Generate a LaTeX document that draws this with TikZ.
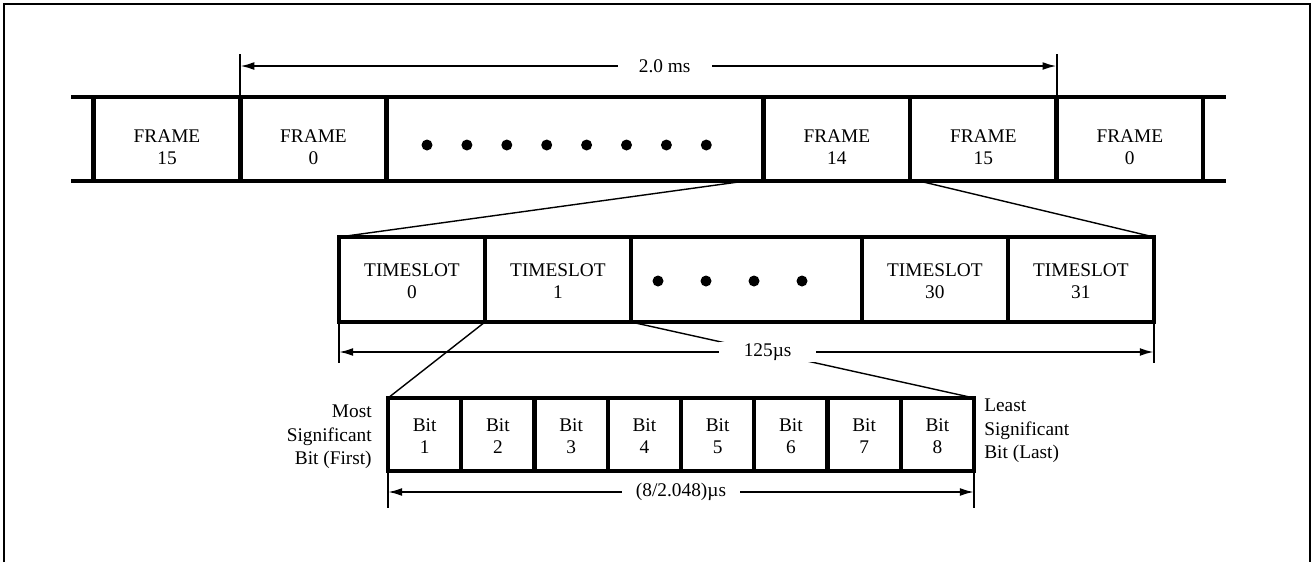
\documentclass[tikz,border=0pt]{standalone}
\usepackage{fontspec}
\setmainfont{Liberation Serif}
\usetikzlibrary{arrows.meta,positioning}

% two-line cell text, lowered a little inside its box
\newcommand{\cellstack}[3]{\raisebox{#1}[\height][\depth]{\begin{tabular}{@{}c@{}}#2\\#3\end{tabular}}}

\begin{document}
\begin{tikzpicture}[x=0.02cm, y=-0.02cm, font=\fontsize{11}{12.5}\selectfont,
  framecell/.style={draw, line width=2.6pt, inner sep=0pt, outer sep=0pt, minimum width=2.93cm, minimum height=1.68cm},
  slotcell/.style={draw, line width=2.6pt, inner sep=0pt, outer sep=0pt, minimum width=2.92cm, minimum height=1.7cm},
  bitcell/.style={draw, line width=2.4pt, inner sep=0pt, outer sep=0pt, minimum width=1.465cm, minimum height=1.46cm},
  fan/.style={line width=0.8pt},
  tick/.style={line width=1.2pt},
  dim/.style={line width=1.1pt, {Latex[length=8pt,width=4.5pt]}-{Latex[length=8pt,width=4.5pt]}},
  dimlabel/.style={fill=white, inner ysep=1pt},
  sidelabel/.style={inner sep=0pt, font=\fontsize{11}{13.5}\selectfont}]

  % outer frame
  \useasboundingbox (0,0) rectangle (1316,562);
  \draw[line width=1.1pt] (4,562) -- (4,4) -- (1310,4) -- (1310,562);

  % Frames (top row)
  \node[framecell] (f15a) at (167,139) {\cellstack{-5.5pt}{FRAME}{15}};
  \node[framecell, right=0pt of f15a] (f0a) {\cellstack{-5.5pt}{FRAME}{0}};
  \node[framecell, right=0pt of f0a, minimum width=7.54cm] (fdots) {};
  \node[framecell, right=0pt of fdots] (f14) {\cellstack{-5.5pt}{FRAME}{14}};
  \node[framecell, right=0pt of f14] (f15b) {\cellstack{-5.5pt}{FRAME}{15}};
  \node[framecell, right=0pt of f15b] (f0b) {\cellstack{-5.5pt}{FRAME}{0}};
  \draw[line width=2.6pt] (f15a.north west) -- ++(-23,0);
  \draw[line width=2.6pt] (f15a.south west) -- ++(-23,0);
  \draw[line width=2.6pt] (f0b.north east) -- ++(23,0);
  \draw[line width=2.6pt] (f0b.south east) -- ++(23,0);
  \foreach \i in {0,...,7}
    \fill ({427+39.9*\i},145) circle (0.11cm);

  % Timeslots (middle row)
  \node[slotcell] (ts0) at (412,279.5) {\cellstack{-2pt}{TIMESLOT}{0}};
  \node[slotcell, right=0pt of ts0] (ts1) {\cellstack{-2pt}{TIMESLOT}{1}};
  \node[slotcell, right=0pt of ts1, minimum width=4.62cm] (tsdots) {};
  \node[slotcell, right=0pt of tsdots] (ts30) {\cellstack{-2pt}{TIMESLOT}{30}};
  \node[slotcell, right=0pt of ts30] (ts31) {\cellstack{-2pt}{TIMESLOT}{31}};
  \foreach \i in {0,...,3}
    \fill ({658+48*\i},281) circle (0.11cm);

  % Bits (bottom row)
  \foreach \i in {1,...,8}
    \node[bitcell] (b\i) at ({388+73.25*(\i-0.5)},434.5) {\cellstack{-2.2pt}{Bit}{\i}};
  \node[sidelabel, align=right, left=0.32cm of b1, yshift=-0.05cm] (msb) {Most\\Significant\\Bit (First)};
  \node[sidelabel, align=left, right=0.2cm of b8, yshift=0.07cm] (lsb) {Least\\Significant\\Bit (Last)};

  % Expansion lines
  \draw[fan] ([xshift=-0.36cm]f14.south west) -- (ts0.north west);
  \draw[fan] ([xshift=0.18cm]f14.south east) -- (ts31.north east);
  \draw[fan] (ts1.south west) -- (b1.north west);
  \draw[fan] (ts1.south east) -- (b8.north east);

  % 2.0 ms
  \draw[tick] (f0a.north west) -- ++(0,-43);
  \draw[tick] (f0b.north west) -- ++(0,-43);
  \path (f0a.north west) ++(0,-31) coordinate (msL);
  \path (f0b.north west) ++(0,-31) coordinate (msR);
  \draw[dim] (msL) -- node[dimlabel, pos=0.52, inner xsep=12pt] {2.0 ms} (msR);

  % 125 us
  \draw[tick] (ts0.south west) -- ++(0,41);
  \draw[tick] (ts31.south east) -- ++(0,41);
  \path (ts0.south west) ++(0,30) coordinate (usL);
  \path (ts31.south east) ++(0,30) coordinate (usR);
  \draw[dim] (usL) -- node[dimlabel, pos=0.526, inner xsep=14pt] {125µs} (usR);

  % 8 bits
  \draw[tick] (b1.south west) -- ++(0,37);
  \draw[tick] (b8.south east) -- ++(0,37);
  \path (b1.south west) ++(0,21) coordinate (bsL);
  \path (b8.south east) ++(0,21) coordinate (bsR);
  \draw[dim] (bsL) -- node[dimlabel, inner xsep=8pt] {(8/2.048)µs} (bsR);

\end{tikzpicture}
\end{document}
